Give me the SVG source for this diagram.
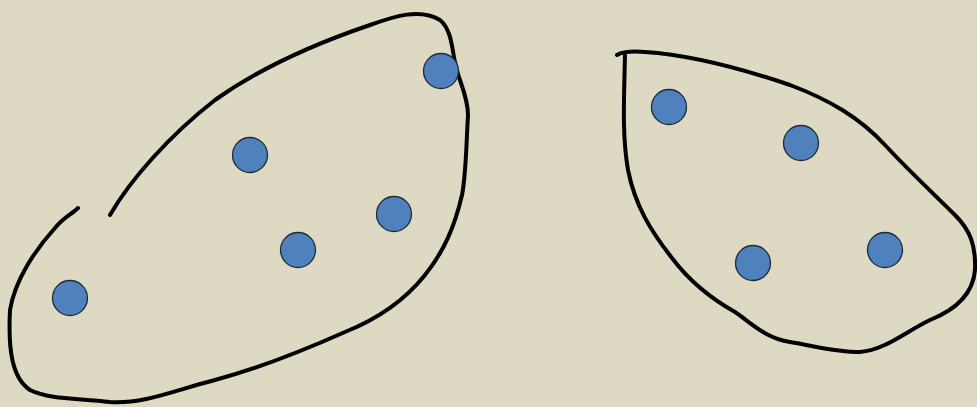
<svg xmlns="http://www.w3.org/2000/svg" width="977" height="407" viewBox="0 0 977 407">
<style>
.o{fill:none;stroke:#000;stroke-width:4;stroke-linecap:round;stroke-linejoin:round}
.d{fill:#4F81BD;stroke:#1f2a38;stroke-width:1.3}
</style>
<rect width="977" height="407" fill="#DDD9C3"/>
<path class="o" d="M110,215 C130,180 170,135 215,100 C260,68 320,42 370,25 C395,16 420,8 440,20 C452,30 452,50 455,62 C458,80 468,95 468,115 C466,150 466,175 462,195 C455,225 445,250 425,275 C405,300 380,318 345,332 C300,352 260,368 215,380 C175,390 145,404 110,402 C80,398 50,400 30,390 C12,378 8,350 10,310 C15,280 35,250 55,228 C63,218 72,214 78,208"/>
<path class="o" d="M617,55 C622,52 632,51 645,52 C690,55 740,68 790,85 C830,100 860,118 885,145 C910,172 935,195 955,215 C970,230 976,245 975,270 C973,295 955,310 930,320 C905,332 885,350 860,352 C835,352 815,346 790,342 C765,338 750,322 735,312 C710,298 690,282 672,258 C650,230 635,205 628,170 C622,135 624,100 625,55"/>
<g id="dots-left">
<circle class="d" cx="441" cy="71" r="17.5"/>
<circle class="d" cx="250" cy="155" r="17.5"/>
<circle class="d" cx="394" cy="214" r="17.5"/>
<circle class="d" cx="298" cy="250" r="17.5"/>
<circle class="d" cx="70" cy="298" r="17.5"/>
</g>
<g id="dots-right">
<circle class="d" cx="669" cy="107" r="17.5"/>
<circle class="d" cx="801" cy="143" r="17.5"/>
<circle class="d" cx="753" cy="263" r="17.5"/>
<circle class="d" cx="885" cy="250" r="17.5"/>
</g>
</svg>
